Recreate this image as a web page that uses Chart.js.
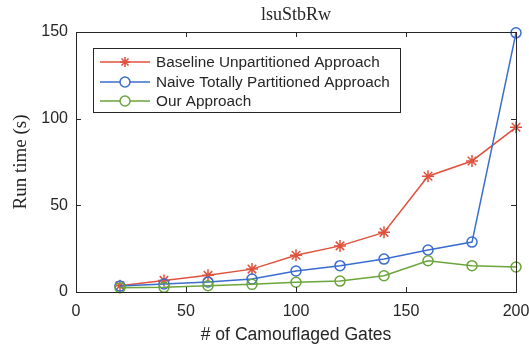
<!DOCTYPE html>
<html>
<head>
<meta charset="utf-8">
<script src="https://cdn.jsdelivr.net/npm/chart.js@4/dist/chart.umd.min.js"></script>
<style>
  html, body { margin: 0; padding: 0; background: #fff; }
  #wrap { width: 529px; height: 346px; }
</style>
</head>
<body>
<div id="wrap"><canvas id="chart" width="529" height="346"></canvas></div>
<script>
// data
const gates = [20, 40, 60, 80, 100, 120, 140, 160, 180, 200];
const baseline = [3.6, 6.7, 9.6, 13.2, 21.2, 26.6, 34.4, 66.8, 75.6, 95];
const naive = [3.4, 4.6, 5.8, 7.5, 12.1, 15.2, 19, 24.2, 28.8, 149.5];
const ours = [2.5, 2.7, 3.6, 4.4, 5.6, 6.3, 9.4, 18, 15.2, 14.4];
const xTicks = [0, 50, 100, 150, 200];
const yTicks = [0, 50, 100, 150];
const chartTitle = 'lsuStbRw';

const txt = '#262626';
const sans = '"Liberation Sans", Arial, sans-serif';
const serif = '"Liberation Serif", "DejaVu Serif", serif';

function pts(vals) {
  return vals.map((v, i) => ({ x: gates[i], y: v }));
}

// box around the axes with inward ticks, like matlab
const boxTicks = {
  id: 'boxTicks',
  afterDatasetsDraw(chart) {
    const { ctx, chartArea: a, scales } = chart;
    ctx.save();
    ctx.strokeStyle = txt;
    ctx.lineWidth = 1;
    ctx.strokeRect(a.left + 0.5, a.top + 0.5, a.right - a.left, a.bottom - a.top);
    ctx.beginPath();
    xTicks.forEach(t => {
      const x = Math.round(scales.x.getPixelForValue(t)) + 0.5;
      ctx.moveTo(x, a.bottom); ctx.lineTo(x, a.bottom - 5);
      ctx.moveTo(x, a.top); ctx.lineTo(x, a.top + 5);
    });
    yTicks.forEach(t => {
      const y = Math.round(scales.y.getPixelForValue(t)) + 0.5;
      ctx.moveTo(a.left, y); ctx.lineTo(a.left + 5, y);
      ctx.moveTo(a.right, y); ctx.lineTo(a.right - 5, y);
    });
    ctx.stroke();
    // title centred over the plot box
    ctx.fillStyle = txt;
    ctx.font = '18px ' + serif;
    ctx.textAlign = 'center';
    ctx.textBaseline = 'middle';
    ctx.fillText(chartTitle, (a.left + a.right) / 2, 15);
    ctx.restore();
  }
};

new Chart(document.getElementById('chart'), {
  type: 'line',
  data: {
    datasets: [
      {
        label: 'Baseline Unpartitioned Approach',
        data: pts(baseline),
        borderColor: '#E0523E',
        backgroundColor: '#E0523E',
        pointStyle: 'star',
        pointRadius: 6,
        pointBorderWidth: 1.5,
        borderWidth: 1.5,
        order: 3
      },
      {
        label: 'Naive Totally Partitioned Approach',
        data: pts(naive),
        borderColor: '#3A6DCF',
        backgroundColor: 'rgba(0,0,0,0)',
        pointStyle: 'circle',
        pointRadius: 5,
        pointBorderWidth: 1.5,
        borderWidth: 1.5,
        order: 2
      },
      {
        label: 'Our Approach',
        data: pts(ours),
        borderColor: '#6BA53B',
        backgroundColor: 'rgba(0,0,0,0)',
        pointStyle: 'circle',
        pointRadius: 5,
        pointBorderWidth: 1.5,
        borderWidth: 1.5,
        order: 1
      }
    ]
  },
  options: {
    responsive: false,
    animation: false,
    clip: false,
    layout: { padding: { top: 32, right: 13, left: 0, bottom: 0 } },
    plugins: {
      title: { display: false },
      legend: { display: false },
      tooltip: { enabled: false }
    },
    scales: {
      x: {
        type: 'linear',
        min: 0, max: 200,
        afterFit: s => { s.height = 54; s.paddingLeft = 0; s.paddingRight = 0; },
        afterBuildTicks: s => { s.ticks = xTicks.map(v => ({ value: v })); },
        grid: { display: false, drawTicks: false, tickLength: 0 },
        border: { display: false },
        ticks: { color: txt, font: { family: sans, size: 16 }, padding: 10, maxRotation: 0 },
        title: {
          display: true,
          text: '# of Camouflaged Gates',
          color: txt,
          font: { family: sans, size: 17.6 },
          padding: { top: 0, bottom: 0 }
        }
      },
      y: {
        min: 0, max: 150,
        afterFit: s => { s.width = 76; s.paddingTop = 0; s.paddingBottom = 0; },
        afterBuildTicks: s => { s.ticks = yTicks.map(v => ({ value: v })); },
        grid: { display: false, drawTicks: false, tickLength: 0 },
        border: { display: false },
        ticks: { color: txt, font: { family: sans, size: 16 }, padding: 8 },
        title: {
          display: true,
          text: 'Run time (s)',
          color: txt,
          font: { family: serif, size: 19 },
          padding: { top: 10, bottom: 0 }
        }
      }
    }
  },
  plugins: [boxTicks, {
    // legend box drawn by hand to sit inside the plot like the original
    id: 'innerLegend',
    afterDraw(chart) {
      const { ctx } = chart;
      const x0 = 93, y0 = 48, w = 307, h = 64;
      ctx.save();
      ctx.fillStyle = '#fff';
      ctx.fillRect(x0, y0, w, h);
      ctx.strokeStyle = txt;
      ctx.lineWidth = 1;
      ctx.strokeRect(x0 + 0.5, y0 + 0.5, w, h);
      ctx.font = '15.3px ' + sans;
      ctx.textBaseline = 'middle';
      const rows = [62, 82, 101];
      chart.data.datasets.forEach((ds, i) => {
        const y = rows[i];
        ctx.strokeStyle = ds.borderColor;
        ctx.lineWidth = 1.5;
        ctx.beginPath();
        ctx.moveTo(100, y); ctx.lineTo(150, y);
        ctx.stroke();
        ctx.fillStyle = ds.pointStyle === 'circle' ? '#fff' : ds.borderColor;
        Chart.helpers.drawPoint(ctx, {
          pointStyle: ds.pointStyle, radius: 5, borderWidth: 1.5
        }, 125, y);
        ctx.fillStyle = txt;
        ctx.fillText(ds.label, 156, y + 1);
      });
      ctx.restore();
    }
  }]
});
</script>
</body>
</html>
